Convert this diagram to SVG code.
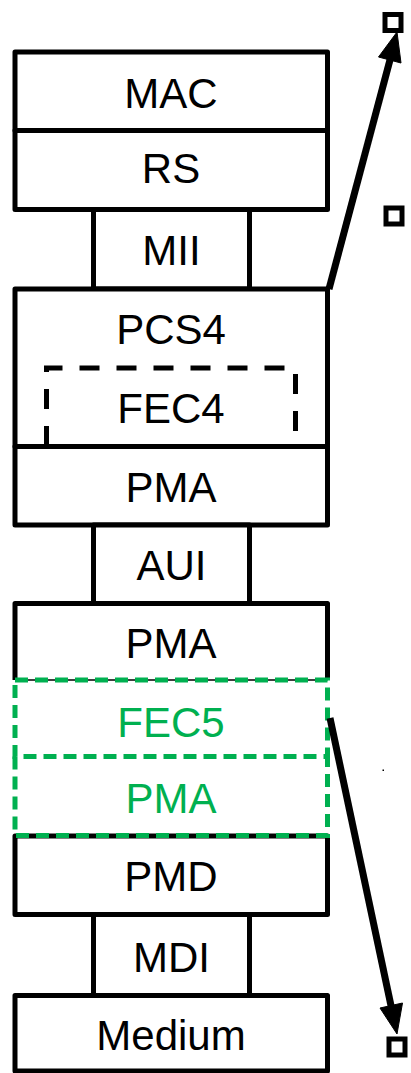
<svg xmlns="http://www.w3.org/2000/svg" width="411" height="1073" viewBox="0 0 411 1073">
<style>
.box{fill:#fff;stroke:#000;stroke-width:5;stroke-linejoin:round}
.open{fill:none;stroke:#000;stroke-width:5;stroke-linejoin:round}
.dash{fill:none;stroke:#000;stroke-width:5;stroke-dasharray:20 17}
.gdash{fill:none;stroke:#00B050;stroke-width:5;stroke-dasharray:13 7}
.t{font-family:"Liberation Sans",Arial,sans-serif;font-size:42px;text-anchor:middle;fill:#000}
.g{fill:#00B050}
.sq{fill:#fff;stroke:#000;stroke-width:5}
.arr{stroke:#000;stroke-width:7;fill:none}
.head{fill:#000;stroke:#000;stroke-width:1;stroke-linejoin:miter}
</style>
<rect width="411" height="1073" fill="#fff"/>
<g id="mac"><rect class="box" x="15" y="52" width="312.5" height="78.5"/><text class="t" x="171" y="108">MAC</text></g>
<g id="rs"><rect class="box" x="15" y="130.5" width="312.5" height="79"/><text class="t" x="171" y="183">RS</text></g>
<g id="mii"><rect class="box" x="93.5" y="209.5" width="156" height="79.5"/><text class="t" x="171.5" y="265">MII</text></g>
<g id="pcs4"><rect class="box" x="15" y="289" width="312.5" height="157.5"/><text class="t" x="171" y="344">PCS4</text></g>
<g id="fec4"><path class="dash" d="M46.5,446 L46.5,368 L295.5,368 L295.5,446"/><text class="t" x="171" y="423">FEC4</text></g>
<g id="pma1"><rect class="box" x="15" y="446.5" width="312.5" height="78.5"/><text class="t" x="171" y="501.5">PMA</text></g>
<g id="aui"><rect class="box" x="93.5" y="525" width="156" height="78.5"/><text class="t" x="171.5" y="580">AUI</text></g>
<g id="pma2"><path class="open" d="M15,680 L15,603.5 L327.5,603.5 L327.5,680"/><line x1="15" y1="680" x2="327.5" y2="680" stroke="#000" stroke-width="1.5"/><text class="t" x="171" y="658">PMA</text></g>
<g id="pmd"><rect class="box" x="15" y="836" width="312.5" height="78.5"/><text class="t" x="171" y="891">PMD</text></g>
<g id="fec5"><rect class="gdash" x="15" y="680" width="312.5" height="76.5"/><text class="t g" x="171" y="736.5">FEC5</text></g>
<g id="pma3"><path class="gdash" d="M15,756.5 L15,835.5 L327.5,835.5 L327.5,756.5"/><text class="t g" x="171" y="813">PMA</text></g>
<g id="mdi"><rect class="box" x="93.5" y="914.5" width="156" height="81"/><text class="t" x="171.5" y="972">MDI</text></g>
<g id="medium"><rect class="box" x="15" y="995.5" width="312.5" height="75.5"/><text class="t" x="171" y="1050">Medium</text></g>
<g id="sq1"><rect class="sq" x="385" y="14.5" width="16" height="16"/></g>
<g id="sq2"><rect class="sq" x="386" y="208" width="16" height="16"/></g>
<g id="sq3"><rect class="sq" x="389" y="1039" width="16" height="16"/></g>
<g id="connectors">
<line class="arr" x1="329" y1="289" x2="390.5" y2="58"/>
<polygon class="head" points="397,32 401,63 378.5,57"/>
<line class="arr" x1="330" y1="718" x2="391.5" y2="1008"/>
<polygon class="head" points="397,1034 402.5,1003 380,1008"/>
</g>
<rect x="382.5" y="769.5" width="1.5" height="1.5" fill="#000"/>
</svg>
